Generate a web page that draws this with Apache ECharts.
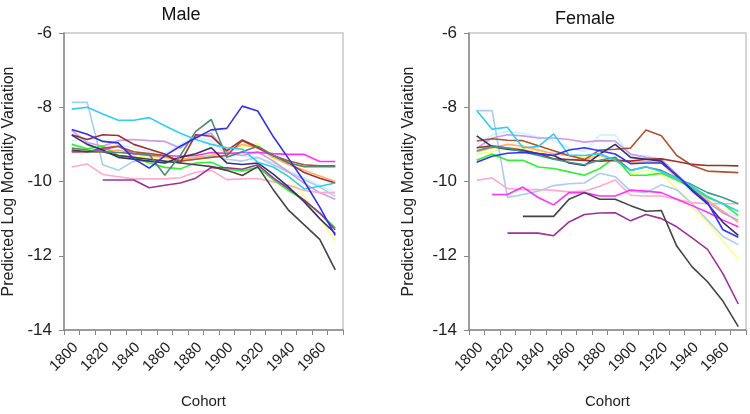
<!DOCTYPE html>
<html><head><meta charset="utf-8">
<script src="https://cdn.jsdelivr.net/npm/echarts@6/dist/echarts.min.js"></script>
<style>html,body{margin:0;padding:0;background:#fff}#c{width:750px;height:414px}</style>
</head><body><div id="c"></div>
<script>
const cohorts = [1805,1815,1825,1835,1845,1855,1865,1875,1885,1895,1905,1915,1925,1935,1945,1955,1965,1975];
const xTickLabels = [1800,1820,1840,1860,1880,1900,1920,1940,1960];
const yTicks = [-14,-12,-10,-8,-6];

// Male series
const mCyan = [-8.05,-8.0,-8.18,-8.35,-8.35,-8.28,-8.5,-8.7,-8.87,-9.0,-9.09,-9.13,-9.48,-9.61,-9.87,-10.2,-10.13,-10.04];
const mLightBlue = [-7.87,-7.87,-9.55,-9.7,-9.45,-9.45,-9.5,-9.45,-9.4,-9.3,-9.4,-9.45,-9.35,-9.55,-9.75,-9.95,-10.15,-10.4];
const mBlue = [-8.6,-8.73,-8.92,-8.96,-9.39,-9.64,-9.31,-9.05,-8.83,-8.61,-8.57,-7.97,-8.1,-8.79,-9.39,-10.0,-10.69,-11.45];
const mNavy = [-8.75,-9.0,-9.15,-9.35,-9.4,-9.45,-9.5,-9.35,-9.25,-9.09,-9.5,-9.54,-9.5,-9.8,-10.15,-10.55,-11.0,-11.4];
const mTeal = [-9.1,-9.15,-9.2,-9.22,-9.25,-9.27,-9.83,-9.3,-8.65,-8.33,-9.35,-9.2,-9.05,-9.3,-9.5,-9.6,-9.6,-9.6];
const mBlack = [-9.15,-9.2,-9.2,-9.3,-9.35,-9.4,-9.45,-9.5,-9.55,-9.6,-9.7,-9.84,-9.6,-10.22,-10.78,-11.17,-11.56,-12.38];
const mBrownRed = [-8.74,-8.87,-8.74,-8.76,-9.0,-9.13,-9.26,-9.5,-8.74,-8.78,-9.17,-8.88,-9.07,-9.3,-9.5,-9.76,-9.91,-10.04];
const mSienna = [-9.2,-9.2,-9.1,-9.05,-9.2,-9.25,-9.3,-9.45,-9.4,-9.35,-9.3,-8.9,-9.1,-9.3,-9.45,-9.55,-9.58,-9.58];
const mMagenta = [-9.2,-9.2,-9.15,-9.05,-9.25,-9.3,-9.3,-9.32,-9.3,-9.22,-9.25,-9.22,-9.22,-9.25,-9.27,-9.27,-9.46,-9.46];
const mGreen = [-9.0,-9.12,-9.05,-9.3,-9.35,-9.5,-9.62,-9.66,-9.5,-9.48,-9.66,-9.72,-9.62,-9.95,-10.25,-10.5,-10.85,-11.25];
const mPink = [-9.61,-9.53,-9.81,-9.87,-9.93,-9.93,-9.93,-9.9,-9.75,-9.7,-9.95,-9.93,-9.92,-10.01,-10.1,-10.24,-10.3,-10.3];
const mPurple = [null,null,-9.96,-9.96,-9.96,-10.17,-10.1,-10.04,-9.91,-9.62,-9.63,-9.67,-9.55,-9.9,-10.2,-10.5,-10.85,-11.3];
const mViolet = [-8.62,-8.95,-9.05,-8.9,-8.87,-8.9,-8.92,-9.1,-8.79,-8.7,-9.22,-9.3,-9.2,-9.45,-9.75,-10.05,-10.3,-10.48];
const mYellow = [-9.15,-9.15,-9.2,-9.2,-9.3,-9.35,-9.4,-9.35,-9.3,-9.25,-9.2,-9.05,-8.98,-9.4,-9.9,-10.4,-11.0,-11.6];
const mOrange = [-9.2,-9.2,-9.2,-9.15,-9.25,-9.3,-9.35,-9.4,-9.35,-9.3,-9.2,-9.0,-9.1,-9.35,-9.55,-9.7,-9.85,-10.0];
const mLightCyan = [-8.9,-8.85,-8.9,-9.0,-9.1,-9.2,-9.25,-9.0,-8.8,-8.9,-9.3,-9.3,-9.35,-9.5,-9.7,-9.9,-10.1,-10.3];

// Female series
const fCyan = [-8.09,-8.59,-8.54,-9.09,-9.06,-8.72,-9.29,-9.3,-9.25,-9.43,-9.7,-9.6,-9.74,-9.91,-10.13,-10.4,-10.6,-10.8];
const fLightBlue = [-8.09,-8.09,-10.43,-10.35,-10.26,-10.11,-10.06,-10.04,-9.78,-9.87,-10.26,-10.3,-10.09,-10.22,-10.6,-11.04,-11.48,-11.7];
const fBlue = [-9.48,-9.32,-9.24,-9.22,-9.25,-9.3,-9.15,-9.09,-9.17,-9.26,-9.52,-9.5,-9.5,-9.83,-10.22,-10.57,-11.3,-11.5];
const fNavy = [-8.77,-9.06,-9.13,-9.18,-9.25,-9.3,-9.5,-9.57,-9.26,-9.0,-9.35,-9.4,-9.45,-9.85,-10.25,-10.6,-11.1,-11.45];
const fSienna = [-8.91,-8.85,-8.89,-8.9,-9.04,-9.17,-9.3,-9.41,-9.15,-9.13,-9.1,-8.61,-8.77,-9.3,-9.57,-9.72,-9.74,-9.76];
const fDarkRed = [-9.09,-9.04,-9.1,-9.15,-9.25,-9.39,-9.41,-9.43,-9.45,-9.43,-9.45,-9.4,-9.39,-9.46,-9.54,-9.57,-9.57,-9.58];
const fTeal = [-9.17,-9.06,-9.1,-9.2,-9.3,-9.4,-9.48,-9.55,-9.43,-9.35,-9.7,-9.61,-9.7,-9.91,-10.09,-10.3,-10.43,-10.6];
const fGreen = [-9.43,-9.26,-9.43,-9.43,-9.61,-9.65,-9.74,-9.83,-9.65,-9.35,-9.83,-9.83,-9.78,-9.96,-10.17,-10.43,-10.6,-10.91];
const fViolet = [-9.1,-8.83,-8.74,-8.77,-8.83,-8.83,-8.87,-8.94,-8.9,-8.91,-9.26,-9.35,-9.4,-9.8,-10.2,-10.55,-10.85,-11.04];
const fLightCyan = [-9.0,-8.75,-8.65,-8.7,-8.8,-8.9,-9.1,-9.2,-8.75,-8.75,-9.3,-9.3,-9.4,-9.9,-10.3,-10.6,-10.8,-10.95];
const fYellow = [-9.26,-9.2,-9.1,-9.1,-9.2,-9.25,-9.3,-9.35,-9.3,-9.45,-9.78,-9.7,-9.8,-10.2,-10.7,-11.1,-11.6,-12.09];
const fPink = [-9.97,-9.9,-10.19,-10.22,-10.22,-10.24,-10.28,-10.26,-10.13,-9.96,-10.37,-10.39,-10.39,-10.48,-10.57,-10.6,-10.6,-10.6];
const fMagenta = [null,-10.35,-10.35,-10.15,-10.43,-10.63,-10.3,-10.3,-10.39,-10.39,-10.23,-10.26,-10.3,-10.48,-10.65,-10.83,-11.04,-11.22];
const fBlack = [null,null,null,-10.94,-10.94,-10.94,-10.48,-10.3,-10.48,-10.48,-10.65,-10.8,-10.78,-11.74,-12.3,-12.7,-13.22,-13.91];
const fPurple = [null,null,-11.39,-11.39,-11.39,-11.46,-11.09,-10.89,-10.85,-10.84,-11.06,-10.89,-11.0,-11.22,-11.52,-11.83,-12.48,-13.3];
const fOrange = [-9.2,-9.1,-9.0,-9.05,-9.15,-9.25,-9.3,-9.4,-9.3,-9.4,-9.5,-9.45,-9.5,-9.9,-10.2,-10.5,-10.8,-11.1];

const maleSeries = [
  ['#ccf2ff', mLightCyan], ['#ffff88', mYellow], ['#ffb066', mOrange], ['#aaccee', mLightBlue],
  ['#cc99ee', mViolet], ['#ffaacc', mPink], ['#33ee33', mGreen], ['#ff33ff', mMagenta],
  ['#aa5533', mSienna], ['#993333', mBrownRed], ['#993399', mPurple], ['#444444', mBlack],
  ['#333366', mNavy], ['#558877', mTeal], ['#33ccee', mCyan], ['#3333dd', mBlue]
];
const femaleSeries = [
  ['#ccf2ff', fLightCyan], ['#ffff88', fYellow], ['#ffb066', fOrange], ['#aaccee', fLightBlue],
  ['#cc99ee', fViolet], ['#ffaacc', fPink], ['#33ee33', fGreen], ['#ff33ff', fMagenta],
  ['#aa5533', fSienna], ['#993333', fDarkRed], ['#993399', fPurple], ['#444444', fBlack],
  ['#333366', fNavy], ['#449988', fTeal], ['#33ccee', fCyan], ['#3333ee', fBlue]
];

const FONT = 'Liberation Sans, Arial, sans-serif';
function xAxis(gi){
  return {
    type:'value', gridIndex:gi, min:1800, max:1980, interval:10,
    axisLine:{show:true, lineStyle:{color:'#888', width:1.5}},
    axisTick:{show:true, inside:false, length:5, lineStyle:{color:'#888'}},
    splitLine:{show:false},
    axisLabel:{
      rotate:45, align:'center', verticalAlign:'middle', margin:27,
      color:'#222', fontSize:15, fontFamily:FONT,
      formatter: v => xTickLabels.indexOf(v) >= 0 ? String(v) : ''
    },
    name:'Cohort', nameLocation:'middle', nameGap:64,
    nameTextStyle:{color:'#222', fontSize:15, fontFamily:FONT}
  };
}
function yAxis(gi, gap){
  return {
    type:'value', gridIndex:gi, min:yTicks[0], max:yTicks[yTicks.length-1], interval:2,
    axisLine:{show:true, lineStyle:{color:'#888', width:1.5}},
    axisTick:{show:true, length:5, lineStyle:{color:'#888'}},
    splitLine:{show:false},
    axisLabel:{color:'#222', fontSize:17, fontFamily:FONT, margin:12},
    name:'Predicted Log Mortality Variation', nameLocation:'middle', nameGap:gap,
    nameTextStyle:{color:'#222', fontSize:16, fontFamily:FONT}
  };
}
const series = [];
function addSeries(list, gi){
  list.forEach(([color, vals]) => {
    series.push({
      type:'line', xAxisIndex:gi, yAxisIndex:gi, showSymbol:false, symbol:'none',
      connectNulls:false, animation:false,
      lineStyle:{color:color, width:1.6},
      data: cohorts.map((c,i) => [c, vals[i]])
    });
  });
}
addSeries(maleSeries, 0);
addSeries(femaleSeries, 1);

const chart = echarts.init(document.getElementById('c'), null, {renderer:'canvas'});
chart.setOption({
  backgroundColor:'#fff',
  animation:false,
  title:[
    {text:'Male', left:176, top:1, textAlign:'center', textStyle:{fontSize:18, fontWeight:'normal', color:'#111', fontFamily:FONT}},
    {text:'Female', left:580, top:5, textAlign:'center', textStyle:{fontSize:18, fontWeight:'normal', color:'#111', fontFamily:FONT}}
  ],
  grid:[
    {left:61, right:407, top:33, bottom:73, show:true, borderColor:'#c8c8c8', borderWidth:1.5, backgroundColor:'transparent'},
    {left:469, right:4, top:33, bottom:74, show:true, borderColor:'#c8c8c8', borderWidth:1.5, backgroundColor:'transparent'}
  ],
  xAxis:[xAxis(0), xAxis(1)],
  yAxis:[yAxis(0, 47), yAxis(1, 52)],
  series: series
});
</script></body></html>
